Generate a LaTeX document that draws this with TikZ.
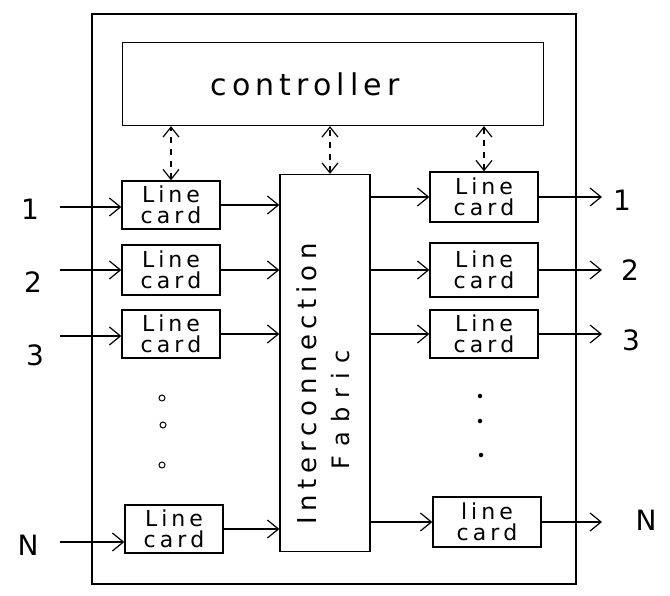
\documentclass[tikz,border=0pt]{standalone}
\usepackage{fontspec}
\setmainfont{DejaVu Sans}
\usetikzlibrary{arrows.meta}
\makeatletter
\newcommand\trackit[2]{\def\trk@gap{#1}\trk@loop#2\@nil}
\def\trk@loop#1#2\@nil{#1\ifx\relax#2\relax\else\kern\trk@gap\trk@loop#2\@nil\fi}
\makeatother
\newcommand\lc[1]{\trackit{4pt}{#1}\\\trackit{4pt}{card}}
\tikzset{
  box/.style={draw, line width=1.3pt, inner sep=0pt, align=center},
  card/.style={box, minimum width=98pt, minimum height=48pt, font=\fontsize{22}{21}\selectfont},
  rcard/.style={card, minimum width=108pt},
  flow/.style={line width=1.2pt, -{Straight Barb[length=11pt,width=18pt]}},
  ctl/.style={line width=1.2pt, dashed, dash pattern=on 6pt off 6pt, {Straight Barb[length=10pt,width=16pt]}-{Straight Barb[length=10pt,width=16pt]}},
  lbl/.style={font=\fontsize{28}{28}\selectfont, inner sep=0pt},
  odot/.style={draw, circle, line width=1pt, minimum size=6pt, inner sep=0pt},
  fdot/.style={fill, circle, minimum size=4.5pt, inner sep=0pt}
}
\begin{document}
\begin{tikzpicture}[x=1pt,y=-1pt]
\useasboundingbox (0,0) rectangle (670,595);
% outer box
\draw[line width=1.3pt] (92,14) rectangle (576,584);
% controller
\node[box, minimum width=421pt, minimum height=83pt] (C) at (333,84) {};
\node[inner sep=0pt, font=\fontsize{30}{30}\selectfont] (Ct) at (305,84) {\trackit{5pt}{controller}};
% fabric
\node[box, minimum width=90pt, minimum height=377pt] (F) at (325,363) {};
\node[rotate=90, inner sep=0pt, font=\fontsize{26}{26}\selectfont] (T1) at (307,384) {\trackit{5.5pt}{Interconnection}};
\node[rotate=90, inner sep=0pt, font=\fontsize{24}{24}\selectfont] (T2) at (341,410) {\trackit{9pt}{Fabric}};
% left line cards
\node[card] (L1) at (171,205) {\lc{Line}};
\node[card, minimum height=50pt] (L2) at (171,270) {\lc{Line}};
\node[card] (L3) at (171,334) {\lc{Line}};
\node[card] (LN) at (174,529) {\lc{Line}};
% right line cards
\node[rcard, minimum height=50pt] (R1) at (484,197) {\lc{Line}};
\node[rcard, minimum height=54pt] (R2) at (484,270) {\lc{Line}};
\node[rcard] (R3) at (484,334) {\lc{Line}};
\node[rcard, minimum height=50pt] (RN) at (487,522) {\lc{line}};
% input labels and coordinates
\node[lbl] (I1) at (30,209) {1};
\node[lbl] (I2) at (33,282) {2};
\node[lbl] (I3) at (35,355) {3};
\node[lbl] (IN) at (28,545) {N};
\coordinate (a1) at (60,207);
\coordinate (a2) at (60,270);
\coordinate (a3) at (60,336);
\coordinate (aN) at (60,542);
\draw[flow] (a1) -- (a1 -| L1.west);
\draw[flow] (a2) -- (a2 -| L2.west);
\draw[flow] (a3) -- (a3 -| L3.west);
\draw[flow] (aN) -- (aN -| LN.west);
% left cards to fabric
\draw[flow] (L1.east) -- (L1.east -| F.west);
\draw[flow] (L2.east) -- (L2.east -| F.west);
\draw[flow] (L3.east) -- (L3.east -| F.west);
\draw[flow] (LN.east) -- (LN.east -| F.west);
% fabric to right cards
\draw[flow] (R1.west -| F.east) -- (R1.west);
\draw[flow] (R2.west -| F.east) -- (R2.west);
\draw[flow] (R3.west -| F.east) -- (R3.west);
\draw[flow] (RN.west -| F.east) -- (RN.west);
% outputs
\coordinate (b1) at (602,197);
\coordinate (b2) at (602,270);
\coordinate (b3) at (602,334);
\coordinate (bN) at (602,522);
\draw[flow] (R1.east) -- (b1);
\draw[flow] (R2.east) -- (b2);
\draw[flow] (R3.east) -- (b3);
\draw[flow] (RN.east) -- (bN);
\node[lbl] (O1) at (622,200) {1};
\node[lbl] (O2) at (630,270) {2};
\node[lbl] (O3) at (631,340) {3};
\node[lbl] (ON) at (646,520) {N};
% controller links
\draw[ctl] (L1.north) -- (L1.north |- C.south);
\draw[ctl] ([xshift=5pt]F.north) -- ([xshift=5pt]F.north |- C.south);
\draw[ctl] (R1.north) -- (R1.north |- C.south);
% ellipsis dots
\node[odot] (d1) at (162,398) {};
\node[odot] (d2) at (163,425) {};
\node[odot] (d3) at (162,465) {};
\node[fdot] (e1) at (480,396) {};
\node[fdot] (e2) at (480,421) {};
\node[fdot] (e3) at (481,455) {};
\end{tikzpicture}
\end{document}
